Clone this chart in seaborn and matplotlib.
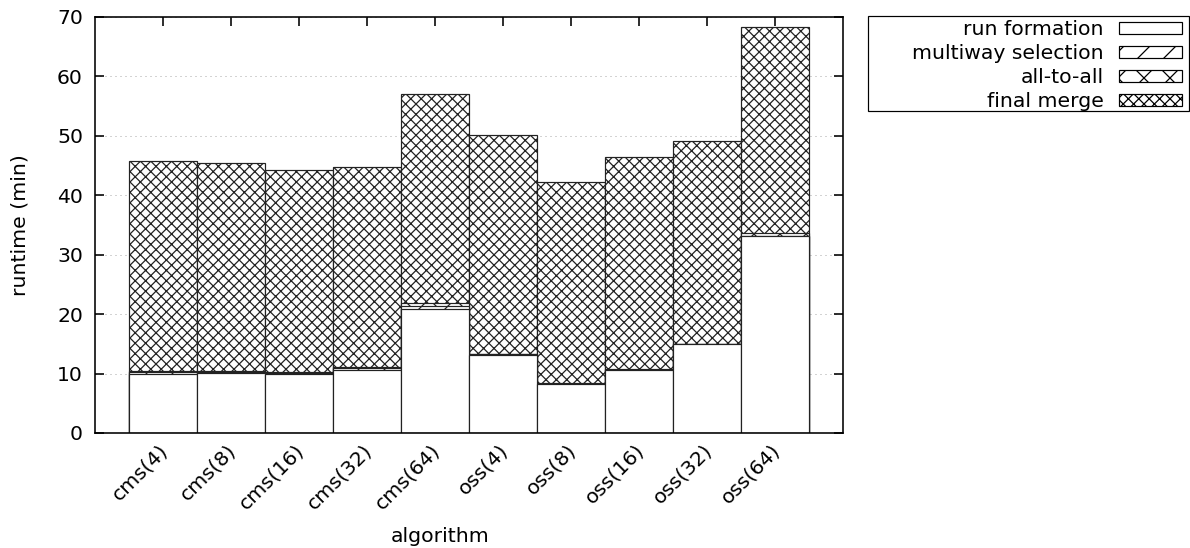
import matplotlib
matplotlib.use("Agg")
import matplotlib.pyplot as plt
from matplotlib.patches import Patch, Rectangle
from matplotlib.transforms import ScaledTranslation
import seaborn as sns
import pandas as pd
import numpy as np

algorithms = ["cms(4)", "cms(8)", "cms(16)", "cms(32)", "cms(64)",
              "oss(4)", "oss(8)", "oss(16)", "oss(32)", "oss(64)"]
run_formation = [10.0, 10.1, 9.9, 10.65, 20.9, 13.2, 8.2, 10.6, 14.9, 33.1]
multiway_selection = [0.2, 0.15, 0.2, 0.25, 0.5, 0.05, 0.05, 0.05, 0.05, 0.1]
all_to_all = [0.15, 0.15, 0.15, 0.2, 0.4, 0.1, 0.1, 0.15, 0.1, 0.4]
final_merge = [35.45, 34.95, 34.0, 33.7, 35.2, 36.75, 33.85, 35.65, 34.05, 34.7]
series_names = ["run formation", "multiway selection", "all-to-all", "final merge"]
hatches = ["", "//", "xx", "xxxxx"]

DPI = 156
PX = 72 / DPI  # points per pixel
sns.set_theme(style="ticks")
plt.rcParams["font.family"] = ["DejaVu Sans"]
plt.rcParams["hatch.linewidth"] = 1.25 * PX
plt.rcParams["hatch.color"] = "black"
plt.rcParams["text.color"] = "black"
plt.rcParams["axes.labelcolor"] = "black"
FS = 20.4 * PX

W, H = 1190, 548
fig = plt.figure(figsize=(W / DPI, H / DPI), dpi=DPI)
ax = fig.add_axes([95 / W, 1 - 433 / H, (843 - 95) / W, (433 - 17) / H])

df = pd.DataFrame({
    "algorithm": algorithms,
    "run formation": run_formation,
    "multiway selection": multiway_selection,
    "all-to-all": all_to_all,
    "final merge": final_merge,
})
cum = df[series_names].cumsum(axis=1)

# draw from top-most cumulative down so lower segments overlay
for name, h in reversed(list(zip(series_names, hatches))):
    sns.barplot(data=pd.DataFrame({"algorithm": algorithms, "value": cum[name]}),
                x="algorithm", y="value", order=algorithms, ax=ax,
                color="white", saturation=1, width=1.0, errorbar=None,
                edgecolor="#222222", linewidth=1.2 * PX, hatch=h)

ax.set_xlim(-1, 10)
ax.set_ylim(0, 70)
ax.set_yticks(np.arange(0, 71, 10))
ax.set_axisbelow(True)
ax.yaxis.grid(True, linestyle=(0, (1, 4)), color="#a8a8a8", linewidth=1.0 * PX)
ax.xaxis.grid(False)
for s in ax.spines.values():
    s.set_visible(True)
    s.set_linewidth(1.6 * PX)
    s.set_color("black")
ax.tick_params(direction="in", length=9 * PX, width=1.6 * PX, top=True, right=True,
               labelsize=FS, colors="black")
ax.tick_params(axis="y", pad=12 * PX)
ax.tick_params(axis="x", pad=14 * PX)
shift = ScaledTranslation(2 / DPI, 0, fig.dpi_scale_trans)
for lab in ax.get_xticklabels():
    lab.set_rotation(45)
    lab.set_ha("right")
    lab.set_va("center")
    lab.set_rotation_mode("anchor")
    lab.set_transform(lab.get_transform() + shift)

ax.set_xlabel("algorithm", fontsize=FS, color="black")
ax.set_ylabel("runtime (min)", fontsize=FS, color="black")
ax.xaxis.set_label_coords(0.461, -0.225)
ax.yaxis.set_label_coords(-0.088, 0.5)

# legend frame (gnuplot-style key box)
fig.add_artist(Rectangle((868 / W, 1 - 111 / H), (1189 - 868) / W, (111 - 16) / H,
                         transform=fig.transFigure, facecolor="white",
                         edgecolor="black", linewidth=1.2 * PX, zorder=1))
handles = [Patch(facecolor="white", edgecolor="black", hatch=h, linewidth=1.2 * PX)
           for h in hatches]
leg = fig.legend(handles, series_names, loc="upper right",
                 bbox_to_anchor=(1182 / W, 1 - 20 / H), markerfirst=False,
                 fontsize=FS, frameon=False, handlelength=3.09, handleheight=0.5,
                 labelspacing=0.25, borderpad=0, handletextpad=0.74,
                 borderaxespad=0)
leg.set_zorder(2)
for t in leg.get_texts():
    t.set_color("black")

fig.savefig("out.png", dpi=DPI)
